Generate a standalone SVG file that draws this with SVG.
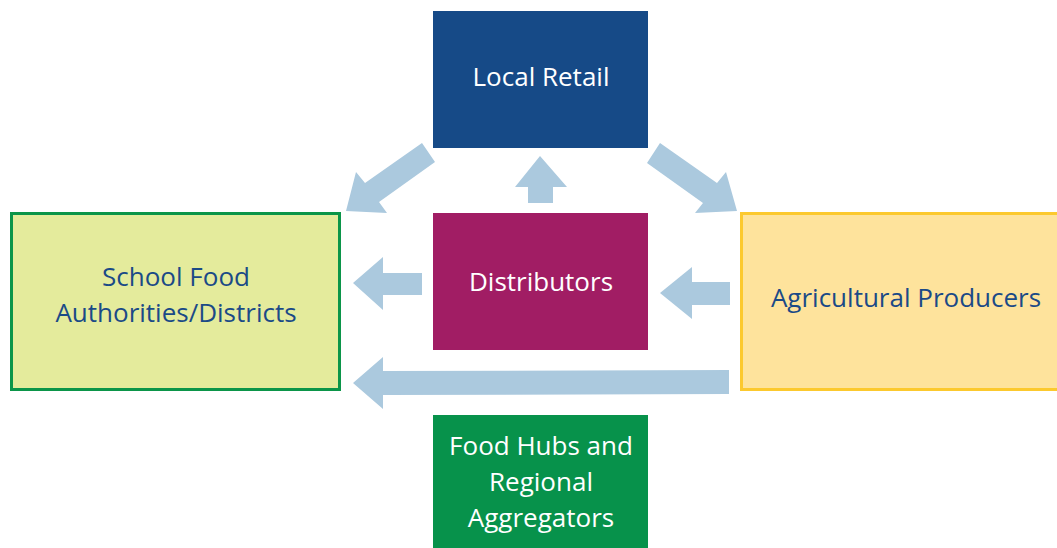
<svg xmlns="http://www.w3.org/2000/svg" width="1057" height="548" viewBox="0 0 1057 548">
<style>
.t{font-family:"Open Sans","Noto Sans",sans-serif;font-size:26px;text-anchor:middle}
.w{fill:#ffffff}
.b{fill:#1b4a87}
.arr{fill:#abc9de}
</style>
<rect width="1057" height="548" fill="#ffffff"/>
<g id="connectors">
<polygon class="arr" points="422,143 435,162 379,202 387,213 346,211 356,172 365,183"/>
<polygon class="arr" points="660,143 647,163 703,203 695,213 737,211 726,172 717,183"/>
<polygon class="arr" points="540,156 567,187 553,187 553,203 528,203 528,187 515,187"/>
<polygon class="arr" points="353,283 383,257 383,273 422,273 422,295 383,295 383,310"/>
<polygon class="arr" points="660,293 692,267 692,282 730,282 730,305 692,305 692,319"/>
<polygon class="arr" points="353,383 383,357 383,371 729,370 729,394 383,395 383,409"/>
</g>
<g id="local-retail">
<rect x="433" y="11" width="215" height="137" fill="#164a87"/>
<text class="t w" x="541" y="86">Local Retail</text>
</g>
<g id="school-food">
<rect x="11.5" y="213.5" width="328" height="176" fill="#e4eb9c" stroke="#0b9549" stroke-width="3"/>
<text class="t b" x="176" y="286">School Food</text>
<text class="t b" x="176" y="322">Authorities/Districts</text>
</g>
<g id="distributors">
<rect x="433" y="213" width="215" height="137" fill="#a11d64"/>
<text class="t w" x="541" y="291">Distributors</text>
</g>
<g id="agricultural-producers">
<rect x="741.5" y="213.5" width="330" height="176" fill="#fee39c" stroke="#fcc92e" stroke-width="3"/>
<text class="t b" x="906" y="307">Agricultural Producers</text>
</g>
<g id="food-hubs">
<rect x="433" y="415" width="215" height="140" fill="#07924b"/>
<text class="t w" x="541" y="455">Food Hubs and</text>
<text class="t w" x="541" y="491">Regional</text>
<text class="t w" x="541" y="527">Aggregators</text>
</g>
</svg>
